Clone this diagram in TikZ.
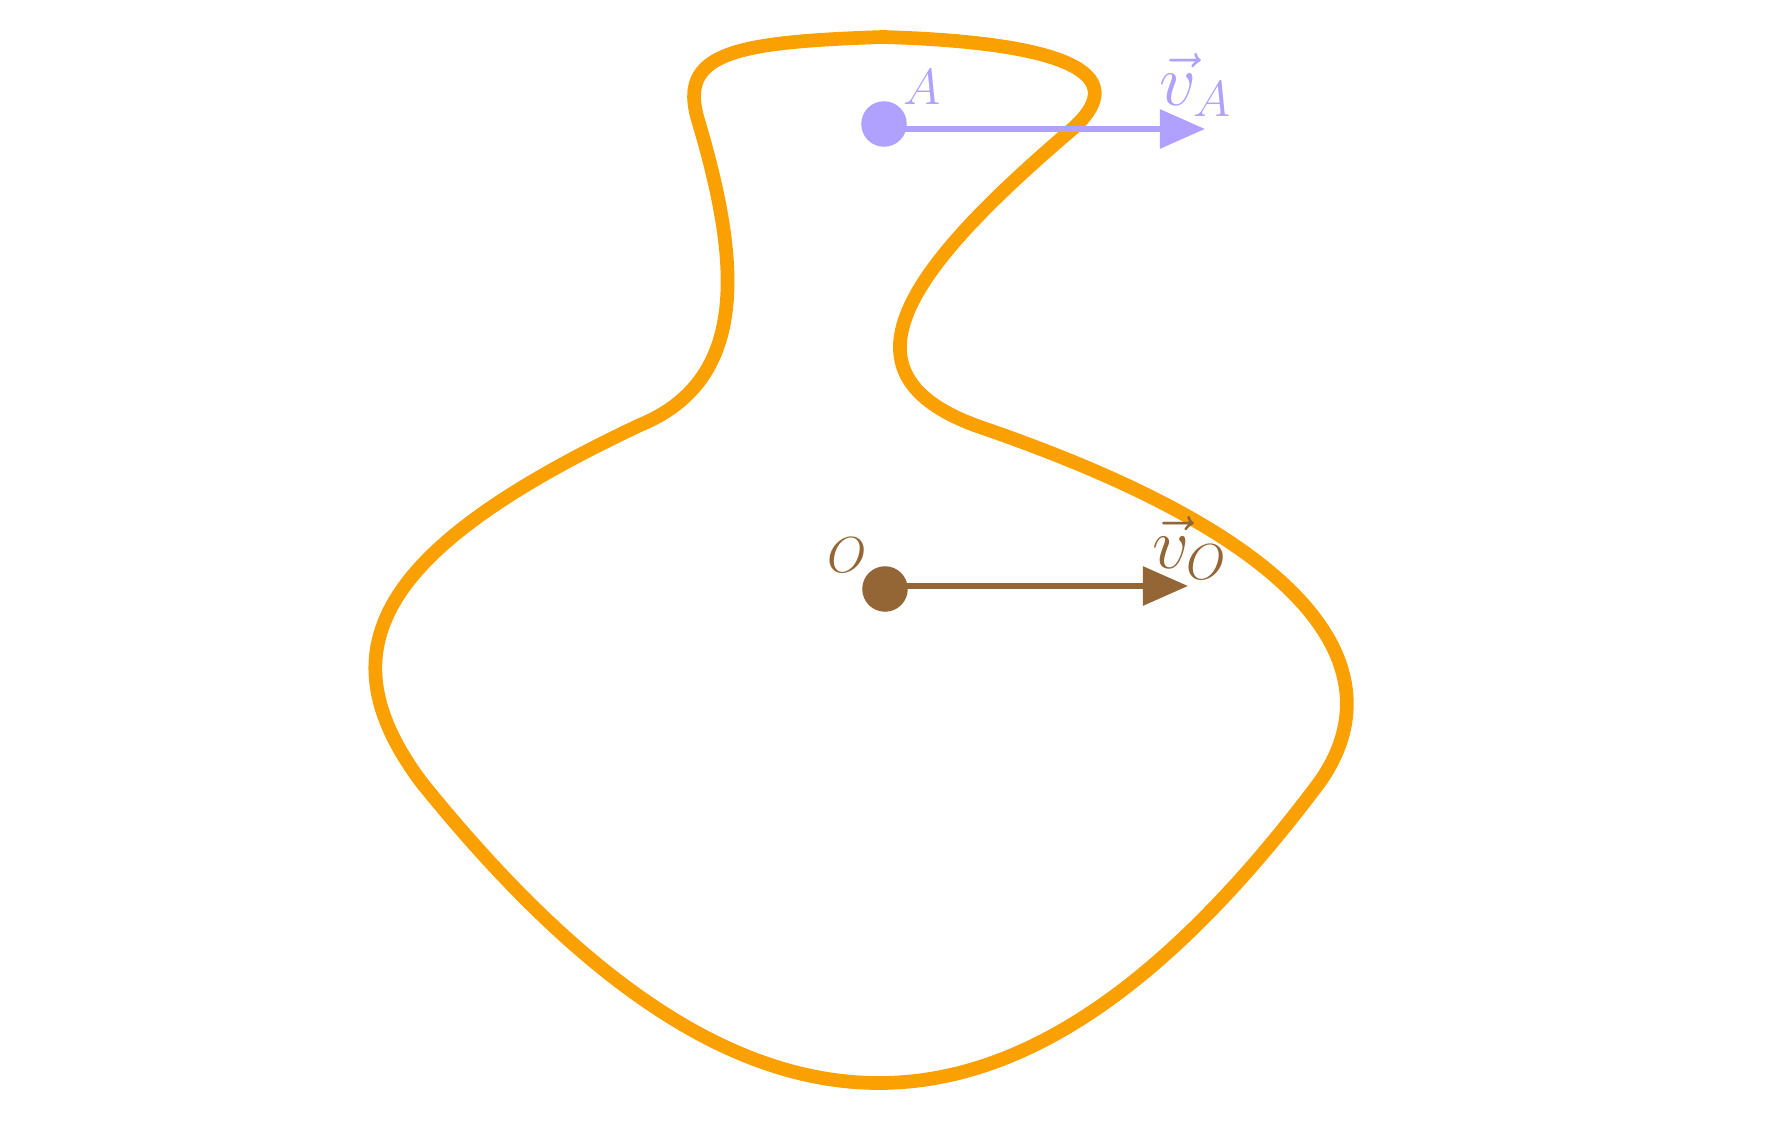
\documentclass[tikz,border=0pt]{standalone}
\usetikzlibrary{arrows.meta}
\definecolor{blob}{RGB}{250,160,0}
\definecolor{lav}{RGB}{176,160,255}
\definecolor{brn}{RGB}{148,102,54}
\begin{document}
\begin{tikzpicture}[x=0.01cm,y=-0.01cm,
  vecarrow/.style={line width=1.7pt,-{Triangle[length=0.45cm,width=0.38cm]}},
  dot/.style={circle,inner sep=0pt,minimum size=0.455cm},
  ptlabel/.style={inner sep=0pt,font=\fontsize{13.7}{16}\selectfont},
  veclabel/.style={inner sep=0pt,font=\fontsize{19.6}{22}\selectfont}]
\useasboundingbox (0,0) rectangle (1769,1122);
\coordinate (P1) at (883,37);
\coordinate (P2) at (698,120);
\coordinate (P3) at (640,425);
\coordinate (P4) at (422,783);
\coordinate (P5) at (1319,783);
\coordinate (P6) at (980,427);
\coordinate (P7) at (1070,131);
\draw[blob,line width=3.9pt,line join=round]
  (P1) .. controls (733,42) and (678,53) .. (P2)
       .. controls (741,264) and (749,380) .. (P3)
       .. controls (375,550) and (323,651) .. (P4)
       .. controls (741,1178) and (1015,1188) .. (P5)
       .. controls (1383,694) and (1362,558) .. (P6)
       .. controls (829,374) and (910,268) .. (P7)
       .. controls (1131,79) and (1083,43) .. (P1) -- cycle;
\node[dot,fill=lav] (A) at (884,124) {};
\coordinate (As) at (884,129);
\coordinate (tipA) at (1205,129);
\draw[vecarrow,lav] (As) -- (tipA);
\node[ptlabel,text=lav] (lA) at (922,87) {$A$};
\node[veclabel,text=lav] (lvA) at (1196,85) {$\vec{v}_A$};
\node[dot,fill=brn] (O) at (885,589) {};
\coordinate (Os) at (885,586);
\coordinate (tipO) at (1188,586);
\draw[vecarrow,brn] (Os) -- (tipO);
\node[ptlabel,text=brn] (lO) at (847,555) {$O$};
\node[veclabel,text=brn] (lvO) at (1190,548) {$\vec{v}_O$};
\end{tikzpicture}
\end{document}
